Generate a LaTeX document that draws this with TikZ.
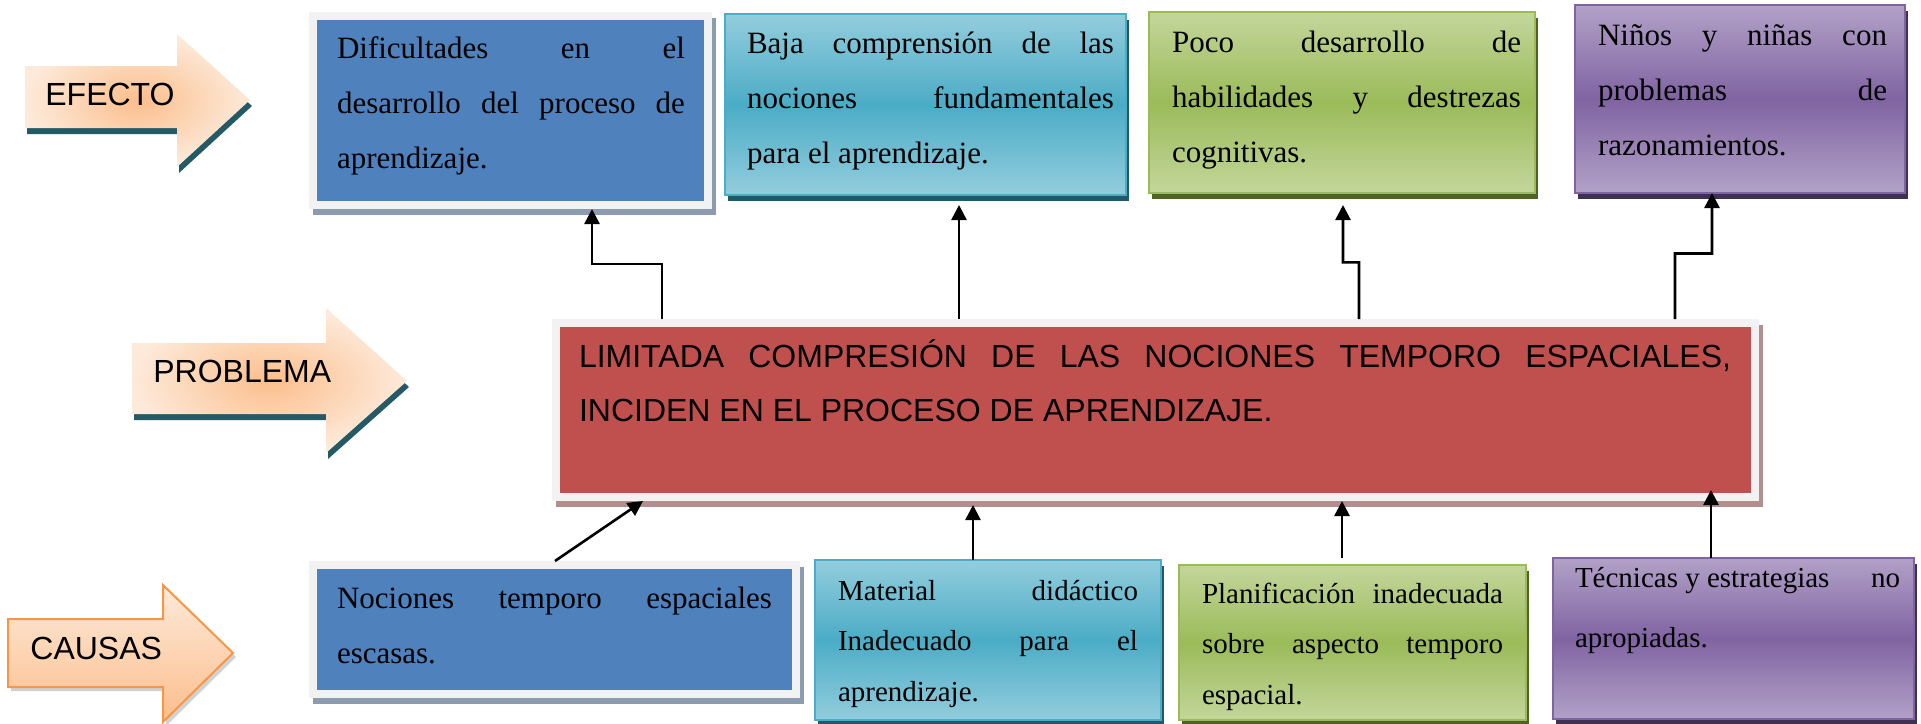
\documentclass[tikz,border=0pt]{standalone}
\usepackage{fontspec}
\setmainfont{Liberation Serif}
\newfontfamily\arialf{Liberation Sans}
\usetikzlibrary{shadows,calc,arrows.meta}

\definecolor{framegray}{HTML}{F2F2F2}
\definecolor{blueF}{HTML}{4F81BD}
\definecolor{blueSh}{RGB}{141,155,176}
\definecolor{redF}{HTML}{C0504D}
\definecolor{redSh}{RGB}{178,142,142}
\definecolor{cyanL}{RGB}{147,205,221}
\definecolor{cyanD}{RGB}{75,172,198}
\definecolor{cyanSh}{RGB}{33,89,104}
\definecolor{greenL}{RGB}{195,214,155}
\definecolor{greenD}{RGB}{155,187,89}
\definecolor{greenSh}{RGB}{79,98,40}
\definecolor{purpL}{RGB}{178,161,199}
\definecolor{purpD}{RGB}{128,100,162}
\definecolor{purpSh}{RGB}{63,49,81}
\definecolor{orgL}{RGB}{253,234,218}
\definecolor{orgD}{RGB}{251,190,140}
\definecolor{orgB}{RGB}{247,150,70}
\definecolor{tealSh}{RGB}{36,90,102}

\newcommand\nsp{\spaceskip=0pt\xspaceskip=0pt\relax}
\newcommand\jline[1]{\makebox[\linewidth][s]{\nsp #1}}

\begin{document}
\begin{tikzpicture}[x=0.5pt,y=-0.5pt,
  framedbox/.style 2 args={rectangle, anchor=north west, inner sep=0pt, outer sep=0pt,
    fill=framegray,
    general shadow={fill=#2, shadow xshift=2pt, shadow yshift=-3pt},
    path picture={\fill[#1] ([shift={(4pt,-4pt)}]path picture bounding box.north west)
      rectangle ([shift={(-4pt,4pt)}]path picture bounding box.south east);}},
  gradbox/.style n args={3}{rectangle, anchor=north west, inner sep=0pt, outer sep=0pt,
    draw=#2, line width=0.9pt, top color=#1, bottom color=#1, middle color=#2,
    general shadow={fill=#3, shadow xshift=1.5pt, shadow yshift=-3pt}},
  txt/.style={anchor=north west, inner sep=0pt, outer sep=0pt, text width=#1, align=left},
  serifA/.style={font=\fontsize{15.5}{27.5}\selectfont},
  serifB/.style={font=\fontsize{14.5}{25.25}\selectfont},
  lbl/.style={anchor=base west, inner sep=0pt, font=\arialf\fontsize{16}{19}\selectfont},
  arr/.style={draw=black, line width=1.3pt, -{Triangle[length=7.5pt,width=7.5pt]}}
]
\useasboundingbox (0,0) rectangle (1921,723);

% ---- side arrows ----
\fill[tealSh] (27,72) -- (179,72) -- (179,40) -- (252,106) -- (179,173) -- (179,134) -- (27,134) -- cycle;
\shade[inner color=orgD, outer color=orgL] (25,66) -- (177,66) -- (177,34) -- (250,100) -- (177,167) -- (177,128) -- (25,128) -- cycle;
\node[lbl] (lef) at (45,105) {EFECTO};

\fill[tealSh] (134,349) -- (328,349) -- (328,314) -- (409,387) -- (328,459) -- (328,420) -- (134,420) -- cycle;
\shade[inner color=orgD, outer color=orgL] (132,343) -- (326,343) -- (326,308) -- (407,381) -- (326,453) -- (326,414) -- (132,414) -- cycle;
\node[lbl] (lpr) at (153,382) {PROBLEMA};

\fill[black, opacity=0.18] (11,623) -- (166,623) -- (166,589) -- (236,657) -- (166,726) -- (166,691) -- (11,691) -- cycle;
\shade[top color=orgL, bottom color=orgD, draw=orgB, line width=1pt] (8,619) -- (163,619) -- (163,585) -- (233,653) -- (163,722) -- (163,687) -- (8,687) -- cycle;
\node[lbl] (lca) at (30,659) {CAUSAS};

% ---- effect boxes ----
\node[framedbox={blueF}{blueSh}, minimum width=201.5pt, minimum height=98.5pt] (e1) at (309,12) {};
\node[gradbox={cyanL}{cyanD}{cyanSh}, minimum width=200.5pt, minimum height=90.5pt] (e2) at (725,14) {};
\node[gradbox={greenL}{greenD}{greenSh}, minimum width=193pt, minimum height=90.5pt] (e3) at (1149,12) {};
\node[gradbox={purpL}{purpD}{purpSh}, minimum width=165pt, minimum height=94pt] (e4) at (1575,5) {};

\node[txt=174pt, serifA] (te1) at (337,27) {\nsp\rule{0pt}{1em}\jline{Dificultades en el}\\ \jline{desarrollo del proceso de}\\ aprendizaje.};
\node[txt=183.5pt, serifA] (te2) at (747,22) {\nsp\rule{0pt}{1em}\jline{Baja comprensión de las}\\ \jline{nociones fundamentales}\\ para el aprendizaje.};
\node[txt=174.5pt, serifA] (te3) at (1172,21) {\nsp\rule{0pt}{1em}\jline{Poco desarrollo de}\\ \jline{habilidades y destrezas}\\ cognitivas.};
\node[txt=144.5pt, serifA] (te4) at (1598,14) {\nsp\rule{0pt}{1em}\jline{Niños y niñas con}\\ \jline{problemas de}\\ razonamientos.};

% ---- problem box ----
\node[framedbox={redF}{redSh}, minimum width=603.5pt, minimum height=91pt] (red) at (552,319) {};
\node[txt=576pt, font=\arialf\fontsize{16}{27}\selectfont] (tred) at (579,335) {\nsp\rule{0pt}{1em}\jline{LIMITADA COMPRESIÓN DE LAS NOCIONES TEMPORO ESPACIALES,}\\ INCIDEN EN EL PROCESO DE APRENDIZAJE.};

% ---- cause boxes ----
\node[framedbox={blueF}{blueSh}, minimum width=245.5pt, minimum height=68.5pt] (b1) at (309,561) {};
\node[gradbox={cyanL}{cyanD}{cyanSh}, minimum width=173pt, minimum height=80pt] (b2) at (815,560) {};
\node[gradbox={greenL}{greenD}{greenSh}, minimum width=173.5pt, minimum height=77.5pt] (b3) at (1179,565) {};
\node[gradbox={purpL}{purpD}{purpSh}, minimum width=180.5pt, minimum height=80.5pt] (b4) at (1553,558) {};

\node[txt=217.5pt, serifA] (tb1) at (337,577) {\nsp\rule{0pt}{1em}\jline{Nociones temporo espaciales}\\ escasas.};
\node[txt=150pt, serifB] (tb2) at (838,571) {\nsp\rule{0pt}{1em}\jline{Material didáctico}\\ \jline{Inadecuado para el}\\ aprendizaje.};
\node[txt=150.5pt, serifB] (tb3) at (1202,574) {\nsp\rule{0pt}{1em}\jline{Planificación inadecuada}\\ \jline{sobre aspecto temporo}\\ espacial.};
\node[txt=162.5pt, font=\fontsize{14.5}{30}\selectfont] (tb4) at (1575,558) {\nsp\rule{0pt}{1em}\makebox[\linewidth]{\nsp Técnicas y estrategias\hfill no}\\ apropiadas.};

% ---- connectors: problem -> effects ----
\coordinate (a1s) at ($(red.north west)+(110,0)$);
\coordinate (a1t) at ($(e1.south west)+(283,0)$);
\draw[arr] (a1s) -- ($(a1s)!0.5!(a1s|-a1t)$) -| (a1t);

\coordinate (a2t) at ($(e2.south west)+(234,0)$);
\draw[arr, shorten >=5pt] (a2t|-red.north) -- (a2t);

\coordinate (a3s) at ($(red.north west)+(807,0)$);
\coordinate (a3t) at ($(e3.south west)+(194,0)$);
\draw[arr, shorten >=6pt] (a3s) -- ($(a3s)!0.45!(a3s|-a3t)$) -| (a3t);

\coordinate (a4s) at ($(red.north west)+(1123,0)$);
\coordinate (a4t) at ($(e4.south west)+(137,0)$);
\draw[arr] (a4s) -- ($(a4s)!0.52!(a4s|-a4t)$) -| (a4t);

% ---- connectors: causes -> problem ----
\coordinate (b1s) at ($(b1.north west)+(246,0)$);
\coordinate (b1t) at ($(red.south west)+(91,0)$);
\draw[arr] (b1s) -- (b1t);

\coordinate (b2s) at ($(b2.north west)+(158,0)$);
\draw[arr, shorten >=2pt] (b2s) -- (b2s|-red.south);

\coordinate (b3s) at ($(b3.north west)+(163,0)$);
\draw[arr, shorten <=3.5pt] (b3s) -- (b3s|-red.south);

\coordinate (b4s) at ($(b4.north west)+(158,0)$);
\draw[arr, shorten >=-5.5pt] (b4s) -- (b4s|-red.south);
\end{tikzpicture}
\end{document}
